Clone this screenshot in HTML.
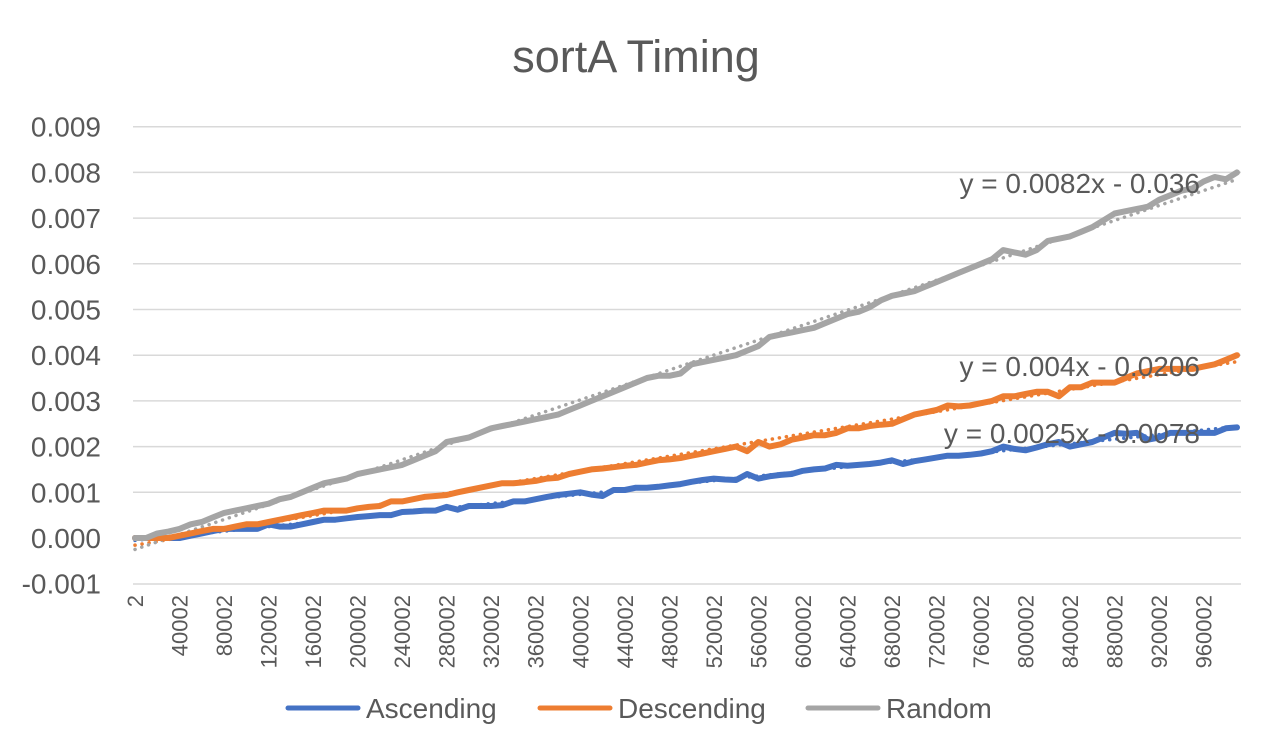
<!DOCTYPE html>
<html><head><meta charset="utf-8"><style>
html,body{margin:0;padding:0;background:#fff;}
svg{display:block;font-family:"Liberation Sans",sans-serif;}
</style></head><body>
<svg id="chart" width="1272" height="754" viewBox="0 0 1272 754">
<rect width="1272" height="754" fill="#fff"/>
<text x="636" y="72" text-anchor="middle" font-size="45" fill="#595959">sortA Timing</text>
<g id="grid"></g>
<g id="yaxis"></g>
<g id="xaxis"></g>
<g id="series"></g>
<text x="1200" y="193" text-anchor="end" font-size="28" fill="#595959">y = 0.0082x - 0.036</text>
<text x="1200" y="376" text-anchor="end" font-size="28" fill="#595959">y = 0.004x - 0.0206</text>
<text x="1200" y="443" text-anchor="end" font-size="28" fill="#595959">y = 0.0025x - 0.0078</text>
<g>
<g><line x1="288" y1="708" x2="358" y2="708" stroke="#4472c4" stroke-width="5" stroke-linecap="round"/><text x="366" y="718" font-size="28" fill="#595959">Ascending</text></g>
<g><line x1="540" y1="708" x2="610" y2="708" stroke="#ed7d31" stroke-width="5" stroke-linecap="round"/><text x="618" y="718" font-size="28" fill="#595959">Descending</text></g>
<g><line x1="808" y1="708" x2="878" y2="708" stroke="#a5a5a5" stroke-width="5" stroke-linecap="round"/><text x="886" y="718" font-size="28" fill="#595959">Random</text></g>
</g>
</svg>
<script>
const yTicks = [-0.001,0,0.001,0.002,0.003,0.004,0.005,0.006,0.007,0.008,0.009];
const yTickLabels = ["-0.001","0.000","0.001","0.002","0.003","0.004","0.005","0.006","0.007","0.008","0.009"];
const categoryCount = 100;
const categoryStart = 2;
const categoryStep = 10000;
const ascending = [0,0,0,0,0,0.5,1,1.5,2,2,2,2,3,2.5,2.5,3,3.5,4,4,4.3,4.6,4.8,5,5,5.7,5.8,6,6,6.8,6.2,7,7,7,7.2,8,8,8.5,9,9.4,9.7,10,9.5,9.2,10.5,10.5,11,11,11.2,11.5,11.8,12.3,12.7,13,12.8,12.7,14,13,13.5,13.8,14,14.7,15,15.2,16,15.8,16,16.2,16.5,17,16.2,16.8,17.2,17.6,18,18,18.2,18.5,19,20,19.5,19.2,19.8,20.5,21,20,20.5,21,22,23,22.8,23,21.5,22,23,23,23,23,23,24,24.2].map(v=>v*1e-4);
const descending = [0,0,0,0,0.5,1,1.5,2,2,2.5,3,3,3.5,4,4.5,5,5.5,6,6,6,6.5,6.8,7,8,8,8.5,9,9.2,9.4,10,10.5,11,11.5,12,12,12.2,12.5,13,13.2,14,14.5,15,15.2,15.5,15.8,16,16.5,17,17.2,17.5,18,18.5,19,19.5,20,19,21,20,20.5,21.5,22,22.5,22.5,23,24,24,24.5,24.8,25,26,27,27.5,28,29,28.8,29,29.5,30,31,31,31.5,32,32,31,33,33,34,34,34,35,36,36.5,37,37,37,37,37.5,38,39,40].map(v=>v*1e-4);
const random = [0,0,1,1.4,2,3,3.5,4.5,5.5,6,6.5,7,7.5,8.5,9,10,11,12,12.5,13,14,14.5,15,15.5,16,17,18,19,21,21.5,22,23,24,24.5,25,25.5,26,26.5,27,28,29,30,31,32,33,34,35,35.5,35.5,36,38,38.5,39,39.5,40,41,42,44,44.5,45,45.5,46,47,48,49,49.5,50.5,52,53,53.5,54,55,56,57,58,59,60,61,63,62.5,62,63,65,65.5,66,67,68,69.5,71,71.5,72,72.5,74,75,76,76.5,78,79,78.5,80].map(v=>v*1e-4);

const NS='http://www.w3.org/2000/svg';
const plotL=133, plotR=1241, x0=135, x1=1237;
function xPos(i){return x0+(x1-x0)*i/(categoryCount-1);}
function yPos(v){return 538 - v/0.001*45.7;}
function mk(tag,attrs,parent){const e=document.createElementNS(NS,tag);for(const k in attrs)e.setAttribute(k,attrs[k]);parent.appendChild(e);return e;}
const grid=document.getElementById('grid'), yax=document.getElementById('yaxis'), xax=document.getElementById('xaxis'), ser=document.getElementById('series');
yTicks.forEach((t,k)=>{
  if(t>-0.001){
    const g=mk('line',{x1:plotL,x2:plotR,y1:yPos(t),y2:yPos(t),stroke:'#d9d9d9','stroke-width':1.5},grid);
    
    
  }
  const tx=mk('text',{x:101,y:yPos(t)+10,'text-anchor':'end','font-size':28,fill:'#595959'},yax);
  tx.textContent=yTickLabels[k];
  
  
});
const base=mk('line',{x1:plotL,x2:plotR,y1:584,y2:584,stroke:'#d9d9d9','stroke-width':1.5},grid);


for(let i=0;i<categoryCount;i+=4){
  const x=xPos(i)+8;
  const tx=mk('text',{x:x,y:595,'text-anchor':'end','font-size':22,fill:'#595959',transform:'rotate(-90 '+x+' 595)'},xax);
  tx.textContent=String(categoryStart+categoryStep*i);
  
  
}
function fit(arr){const n=arr.length;let sx=0,sy=0,sxx=0,sxy=0;arr.forEach((v,i)=>{sx+=i;sy+=v;sxx+=i*i;sxy+=i*v;});const b=(n*sxy-sx*sy)/(n*sxx-sx*sx);return [b,(sy-b*sx)/n];}
[[ascending,'#4472c4','ascending'],[descending,'#ed7d31','descending'],[random,'#a5a5a5','random']].forEach(([arr,col,nm])=>{
  const [b,a]=fit(arr);
  const tl=mk('line',{x1:xPos(0),y1:yPos(a),x2:xPos(categoryCount-1),y2:yPos(a+b*(categoryCount-1)),stroke:col,'stroke-width':3.5,'stroke-dasharray':'0.1 7','stroke-linecap':'round'},ser);
  
  
});
[[ascending,'#4472c4','ascending'],[descending,'#ed7d31','descending'],[random,'#a5a5a5','random']].forEach(([arr,col,nm])=>{
  const pts=arr.map((v,i)=>xPos(i).toFixed(1)+','+yPos(v).toFixed(1)).join(' ');
  const pl=mk('polyline',{points:pts,fill:'none',stroke:col,'stroke-width':6,'stroke-linejoin':'round','stroke-linecap':'round'},ser);
  
  
});
</script>
</body></html>
